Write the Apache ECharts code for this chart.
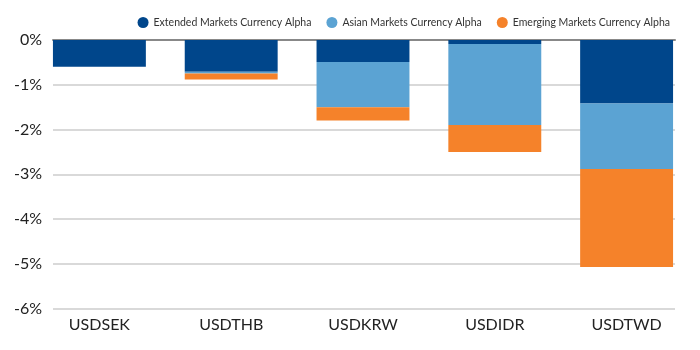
<!DOCTYPE html>
<html>
<head>
<meta charset="utf-8">
<script src="https://cdn.jsdelivr.net/npm/echarts@6/dist/echarts.min.js"></script>
<style>
html,body{margin:0;padding:0;background:#fff;}
#chart{width:700px;height:350px;}
</style>
</head>
<body>
<div id="chart"></div>
<script>
const categories = ['USDSEK', 'USDTHB', 'USDKRW', 'USDIDR', 'USDTWD'];
const extendedAlpha = [-0.60, -0.71, -0.49, -0.09, -1.42];
const asianAlpha = [0, -0.04, -1.01, -1.81, -1.46];
const emergingAlpha = [0, -0.13, -0.30, -0.60, -2.19];
const seriesNames = ['Extended Markets Currency Alpha', 'Asian Markets Currency Alpha', 'Emerging Markets Currency Alpha'];

const chart = echarts.init(document.getElementById('chart'));
const font = 'Lato';
chart.setOption({
  animation: false,
  color: ['#00468B', '#5BA3D3', '#F5822A'],
  textStyle: { fontFamily: font },
  legend: {
    top: 12,
    right: 25,
    icon: 'circle',
    itemWidth: 11,
    itemHeight: 11,
    itemGap: 15,
    textStyle: { fontFamily: font, fontSize: 10.5, color: '#333' },
    data: seriesNames
  },
  grid: [
    { left: 53, right: 25, top: 40, bottom: 41.5 },
    { left: 33.5, right: 7.5, top: 40, bottom: 41.5 }
  ],
  xAxis: [{
    gridIndex: 0,
    type: 'category',
    data: categories,
    position: 'top',
    axisLine: { show: true, onZero: false, lineStyle: { color: '#888', width: 2 } },
    axisTick: { show: false },
    axisLabel: { show: false }
  }, {
    gridIndex: 1,
    type: 'category',
    data: categories,
    position: 'bottom',
    axisLine: { show: false, onZero: false },
    axisTick: { show: false },
    axisLabel: { fontFamily: font, fontSize: 16, color: '#222', margin: 8 }
  }],
  yAxis: [{
    gridIndex: 0,
    type: 'value',
    min: -6,
    max: 0,
    interval: 1,
    axisLine: { show: false },
    axisTick: { show: false },
    splitLine: { lineStyle: { color: '#cccccc', width: 1.5 } },
    axisLabel: { fontFamily: font, fontSize: 16, color: '#222', margin: 11, formatter: v => v + '%' }
  }, {
    gridIndex: 1,
    type: 'value',
    min: -6,
    max: 0,
    interval: 1,
    show: false,
    splitLine: { show: false }
  }],
  series: [
    { name: seriesNames[0], type: 'bar', stack: 'a', xAxisIndex: 1, yAxisIndex: 1, data: extendedAlpha, barCategoryGap: '29.5%' },
    { name: seriesNames[1], type: 'bar', stack: 'a', xAxisIndex: 1, yAxisIndex: 1, data: asianAlpha, barCategoryGap: '29.5%' },
    { name: seriesNames[2], type: 'bar', stack: 'a', xAxisIndex: 1, yAxisIndex: 1, data: emergingAlpha, barCategoryGap: '29.5%' }
  ]
});
</script>
</body>
</html>
